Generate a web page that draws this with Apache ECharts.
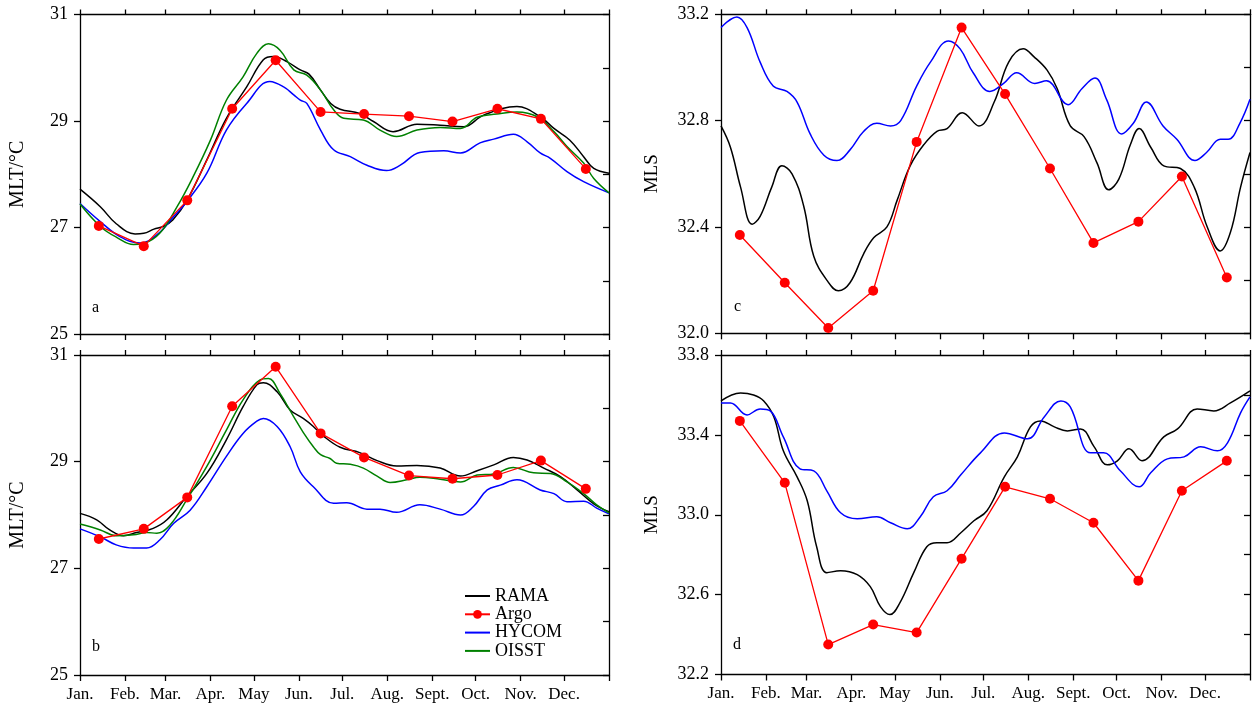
<!DOCTYPE html>
<html>
<head>
<meta charset="utf-8">
<script src="https://cdn.jsdelivr.net/npm/echarts@6/dist/echarts.min.js"></script>
<style>
html, body { margin: 0; padding: 0; background: #fff; }
#chart { width: 1257px; height: 710px; }
</style>
</head>
<body>
<div id="chart"></div>
<script>
// x axis: day of year, ticks at month starts
const monthTicks = [0, 31, 59, 90, 120, 151, 181, 212, 243, 273, 304, 334, 365];
const monthLabels = ['Jan.', 'Feb.', 'Mar.', 'Apr.', 'May', 'Jun.', 'Jul.', 'Aug.', 'Sept.', 'Oct.', 'Nov.', 'Dec.'];
// Argo monthly means sit near mid-month
const argoDays = [13, 44, 74, 105, 135, 166, 196, 227, 257, 288, 318, 349];

// panel a (MLT)
const aRAMA = [[0,27.72],[14,27.39],[25,27.07],[38,26.88],[44,26.89],[51,26.97],[57.5,27.02],[64,27.14],[74,27.52],[87.5,28.27],[101,29.05],[115,29.64],[126.5,30.15],[133.5,30.21],[143,30.11],[152,29.96],[158,29.88],[166,29.58],[173,29.33],[179.5,29.22],[193,29.14],[202.5,28.99],[216,28.80],[232.5,28.94],[248.5,28.92],[264.5,28.89],[278.5,29.11],[301.5,29.27],[317.5,29.08],[327,28.86],[338,28.64],[347.5,28.33],[354.5,28.11],[365,28.02]];
const aHYCOM = [[0,27.45],[14,27.11],[27.5,26.83],[41.5,26.71],[53,26.86],[64.5,27.20],[73.5,27.48],[87.5,28.02],[101,28.83],[115,29.33],[131,29.74],[140.5,29.64],[147.5,29.49],[152,29.39],[156.5,29.33],[166,28.83],[175,28.46],[186.5,28.33],[198,28.17],[211.5,28.07],[221,28.17],[234.5,28.41],[251,28.44],[262.5,28.40],[276,28.59],[285.5,28.66],[299,28.75],[308.5,28.61],[317.5,28.40],[324.5,28.30],[336,28.05],[347.5,27.86],[365,27.65]];
const aOISST = [[0,27.44],[14,27.02],[25,26.82],[37,26.68],[44,26.70],[55,26.89],[67,27.39],[78,27.95],[90,28.64],[101,29.39],[112.5,29.83],[122,30.27],[130,30.45],[138,30.33],[147.5,29.96],[156.5,29.86],[166,29.58],[175,29.21],[182,29.05],[195.5,29.02],[207,28.83],[218.5,28.71],[232.5,28.83],[248.5,28.88],[262.5,28.86],[274,29.07],[287.5,29.13],[301.5,29.17],[315.5,29.08],[327,28.80],[336,28.52],[347.5,28.21],[354.5,27.92],[365,27.65]];
const aArgo = [27.03, 26.65, 27.51, 29.23, 30.14, 29.17, 29.13, 29.09, 28.99, 29.23, 29.04, 28.10];

// panel b (MLT)
const bRAMA = [[0,28.03],[11.5,27.91],[20.5,27.72],[30,27.61],[39,27.67],[50.5,27.75],[60,27.91],[73.5,28.34],[87.5,28.78],[101,29.41],[112.5,30.03],[122,30.44],[126.5,30.48],[136,30.31],[145,29.97],[154,29.81],[161,29.66],[168,29.48],[179.5,29.27],[193,29.17],[205,29.02],[218.5,28.92],[232.5,28.93],[248.5,28.88],[262.5,28.73],[274,28.83],[285.5,28.94],[299,29.08],[308.5,29.03],[320,28.88],[331.5,28.72],[343,28.47],[354.5,28.21],[365,28.06]];
const bHYCOM = [[0,27.74],[14,27.59],[25,27.44],[37,27.38],[46,27.38],[55,27.53],[64.5,27.84],[76,28.09],[87.5,28.53],[101,29.10],[112.5,29.53],[122,29.76],[126.5,29.81],[136,29.66],[145,29.28],[152,28.81],[161,28.53],[175,28.22],[184,28.23],[198,28.11],[207,28.11],[218.5,28.05],[234.5,28.19],[248.5,28.11],[262.5,28.00],[271.5,28.16],[281,28.47],[290,28.56],[301.5,28.66],[317.5,28.47],[327,28.40],[336,28.25],[347.5,28.26],[356.5,28.13],[365,28.02]];
const bOISST = [[0,27.83],[14,27.72],[25,27.61],[37,27.63],[46,27.67],[53,27.66],[62,27.81],[73.5,28.28],[87.5,28.91],[101,29.59],[112.5,30.16],[124,30.53],[130,30.56],[138,30.28],[147.5,29.84],[154,29.55],[161,29.28],[166,29.13],[172.5,29.06],[177,28.97],[186.5,28.95],[195.5,28.88],[205,28.73],[214,28.61],[225.5,28.66],[234.5,28.71],[248.5,28.67],[262.5,28.62],[274,28.75],[285.5,28.77],[299,28.89],[313,28.79],[324.5,28.78],[336,28.62],[347.5,28.40],[356.5,28.19],[365,28.04]];
const bArgo = [27.55, 27.74, 28.33, 30.04, 30.78, 29.53, 29.08, 28.74, 28.68, 28.75, 29.02, 28.49];

// panel c (MLS)
const cRAMA = [[0,32.78],[6.5,32.70],[13.5,32.55],[21.5,32.41],[27,32.44],[35,32.55],[42,32.63],[49,32.60],[57,32.48],[64,32.29],[73,32.20],[81,32.16],[89,32.19],[98.5,32.30],[105.5,32.36],[114.5,32.40],[121.5,32.50],[130.5,32.63],[140,32.71],[149,32.76],[156,32.77],[166.5,32.83],[178,32.78],[188.5,32.87],[198.5,33.02],[208.5,33.07],[216,33.04],[225,32.99],[232,32.92],[241,32.78],[250.5,32.74],[259.5,32.64],[267.5,32.54],[274.5,32.58],[282.5,32.71],[288.5,32.77],[296.5,32.70],[305.5,32.63],[317,32.62],[326.5,32.55],[335.5,32.40],[344.5,32.31],[351.5,32.38],[358.5,32.55],[365,32.68]];
const cHYCOM = [[0,33.15],[11,33.19],[18,33.15],[27,33.02],[36,32.93],[45.5,32.91],[52.5,32.87],[61.5,32.75],[71,32.67],[80,32.65],[89,32.69],[98.5,32.76],[107.5,32.79],[117,32.78],[124,32.80],[135,32.93],[144.5,33.02],[157,33.10],[165,33.07],[174,32.98],[185.5,32.91],[195,32.94],[204,32.98],[216.5,32.94],[224.5,32.95],[239.5,32.86],[249,32.92],[258,32.96],[266,32.88],[276.5,32.75],[284.5,32.79],[293.5,32.87],[305,32.78],[314.5,32.73],[327,32.65],[335,32.68],[344.5,32.73],[350,32.73],[358,32.79],[365,32.88]];
const cArgo = [32.37, 32.19, 32.02, 32.16, 32.72, 33.15, 32.90, 32.62, 32.34, 32.42, 32.59, 32.21];

// panel d (MLS)
const dRAMA = [[0,33.57],[13.5,33.61],[22.5,33.60],[29.5,33.57],[36.5,33.49],[43,33.32],[52.5,33.19],[59.5,33.07],[66,32.84],[73,32.71],[82.5,32.72],[94,32.70],[103,32.64],[110,32.54],[116.5,32.50],[123.5,32.56],[133,32.71],[142,32.84],[149,32.86],[156,32.86],[165.5,32.91],[174.5,32.97],[183.5,33.02],[195.5,33.19],[204.5,33.29],[213.5,33.44],[220.5,33.47],[230,33.44],[239,33.42],[248,33.43],[257.5,33.34],[266.5,33.25],[273.5,33.27],[281.5,33.33],[290.5,33.27],[305.5,33.39],[315,33.43],[328.5,33.53],[340,33.52],[351.5,33.56],[365,33.62]];
const dHYCOM = [[0,33.56],[6.5,33.56],[18,33.50],[27,33.53],[34,33.52],[43,33.39],[54.5,33.23],[64,33.22],[73,33.12],[82.5,33.01],[94,32.98],[107.5,32.99],[117,32.96],[128.5,32.93],[137.5,32.99],[146.5,33.09],[156,33.12],[165.5,33.20],[179,33.31],[195.5,33.41],[211.5,33.38],[223,33.49],[234.5,33.57],[241,33.54],[255,33.31],[264,33.31],[275.5,33.22],[288.5,33.14],[296.5,33.21],[308,33.28],[319.5,33.29],[331,33.34],[342.5,33.32],[349.5,33.36],[358.5,33.51],[365,33.59]];
const dArgo = [33.47, 33.16, 32.35, 32.45, 32.41, 32.78, 33.14, 33.08, 32.96, 32.67, 33.12, 33.27];

const FONT = "'Liberation Serif', 'Times New Roman', serif";
const BLACK = '#000', RED = '#ff0000', BLUE = '#0000ff', GREEN = '#008000';

const panels = [
    { grid: { left: 80, top: 14.5, width: 529, height: 319.5 }, min: 25, max: 31, step: 2, minor: 1, name: 'MLT/°C', nameSize: 20, gap: 52, dec: 0, labels: false },
    { grid: { left: 80, top: 355, width: 529, height: 320 }, min: 25, max: 31, step: 2, minor: 1, name: 'MLT/°C', nameSize: 20, gap: 52, dec: 0, labels: true },
    { grid: { left: 721, top: 14.3, width: 529, height: 319 }, min: 32.0, max: 33.2, step: 0.4, minor: 0.2, name: 'MLS', nameSize: 19, gap: 59, dec: 1, labels: false },
    { grid: { left: 721, top: 355, width: 529, height: 319.5 }, min: 32.2, max: 33.8, step: 0.4, minor: 0.2, name: 'MLS', nameSize: 19, gap: 59, dec: 1, labels: true }
];

const axisLine = { show: true, onZero: false, lineStyle: { color: BLACK, width: 1.3 } };
const tickStyle = { color: BLACK, width: 1.3 };

const grids = [], xAxes = [], yAxes = [];
panels.forEach((p, g) => {
    grids.push(Object.assign({ containLabel: false, outerBoundsMode: 'none' }, p.grid));
    // bottom
    xAxes.push({
        type: 'value', gridIndex: g, position: 'bottom', min: 0, max: 365,
        axisLine: axisLine,
        axisTick: { show: true, customValues: monthTicks, length: 6, lineStyle: tickStyle },
        axisLabel: {
            show: p.labels, customValues: monthTicks.slice(0, 12), margin: 11,
            fontFamily: FONT, fontSize: 17, color: BLACK,
            formatter: v => monthLabels[monthTicks.indexOf(v)]
        },
        splitLine: { show: false }
    });
    // top
    xAxes.push({
        type: 'value', gridIndex: g, position: 'top', min: 0, max: 365,
        axisLine: axisLine,
        axisTick: { show: true, customValues: monthTicks, length: 5, lineStyle: tickStyle },
        axisLabel: { show: false },
        splitLine: { show: false }
    });
    // left
    yAxes.push({
        type: 'value', gridIndex: g, position: 'left', min: p.min, max: p.max, interval: p.step,
        axisLine: axisLine,
        axisTick: { show: true, length: 6, lineStyle: tickStyle },
        axisLabel: {
            margin: 12, fontFamily: FONT, fontSize: 18, color: BLACK,
            formatter: v => v.toFixed(p.dec)
        },
        name: p.name, nameLocation: 'middle', nameGap: p.gap,
        nameTextStyle: { fontFamily: FONT, fontSize: p.nameSize, color: BLACK },
        splitLine: { show: false }
    });
    // right, minor ticks inside
    yAxes.push({
        type: 'value', gridIndex: g, position: 'right', min: p.min, max: p.max, interval: p.minor,
        axisLine: axisLine,
        axisTick: { show: true, inside: true, length: 6, lineStyle: tickStyle },
        axisLabel: { show: false },
        splitLine: { show: false }
    });
});

function curve(name, g, data, color) {
    return {
        name: name, type: 'line', xAxisIndex: 2 * g, yAxisIndex: 2 * g,
        data: data, smooth: 0.4, symbol: 'none',
        lineStyle: { color: color, width: 1.5 }, itemStyle: { color: color },
        z: 2, silent: true
    };
}
function argo(g, vals) {
    return {
        name: 'Argo', type: 'line', xAxisIndex: 2 * g, yAxisIndex: 2 * g,
        data: argoDays.map((d, i) => [d, vals[i]]),
        symbol: 'circle', symbolSize: 10, showSymbol: true,
        lineStyle: { color: RED, width: 1.3 }, itemStyle: { color: RED },
        z: 3, silent: true
    };
}

const series = [
    curve('RAMA', 0, aRAMA, BLACK), curve('HYCOM', 0, aHYCOM, BLUE), curve('OISST', 0, aOISST, GREEN), argo(0, aArgo),
    curve('RAMA', 1, bRAMA, BLACK), curve('HYCOM', 1, bHYCOM, BLUE), curve('OISST', 1, bOISST, GREEN), argo(1, bArgo),
    curve('RAMA', 2, cRAMA, BLACK), curve('HYCOM', 2, cHYCOM, BLUE), argo(2, cArgo),
    curve('RAMA', 3, dRAMA, BLACK), curve('HYCOM', 3, dHYCOM, BLUE), argo(3, dArgo)
];

const noDot = { color: 'rgba(0,0,0,0)', borderWidth: 0 };
const letterStyle = { fontFamily: FONT, fontSize: 16, fontWeight: 'normal', color: BLACK };
const chart = echarts.init(document.getElementById('chart'));
chart.setOption({
    animation: false,
    backgroundColor: '#fff',
    title: [
        { text: 'a', left: 92, top: 300, padding: 0, textStyle: letterStyle },
        { text: 'b', left: 92, top: 639, padding: 0, textStyle: letterStyle },
        { text: 'c', left: 734, top: 299, padding: 0, textStyle: letterStyle },
        { text: 'd', left: 733, top: 637, padding: 0, textStyle: letterStyle }
    ],
    legend: {
        data: [
            { name: 'RAMA', itemStyle: noDot },
            { name: 'Argo' },
            { name: 'HYCOM', itemStyle: noDot },
            { name: 'OISST', itemStyle: noDot }
        ],
        orient: 'vertical', left: 464, top: 587, padding: 0,
        itemWidth: 25, itemHeight: 11, itemGap: 0.3,
        textStyle: { fontFamily: FONT, fontSize: 18, color: BLACK },
        selectedMode: false
    },
    grid: grids,
    xAxis: xAxes,
    yAxis: yAxes,
    series: series
});
</script>
</body>
</html>
